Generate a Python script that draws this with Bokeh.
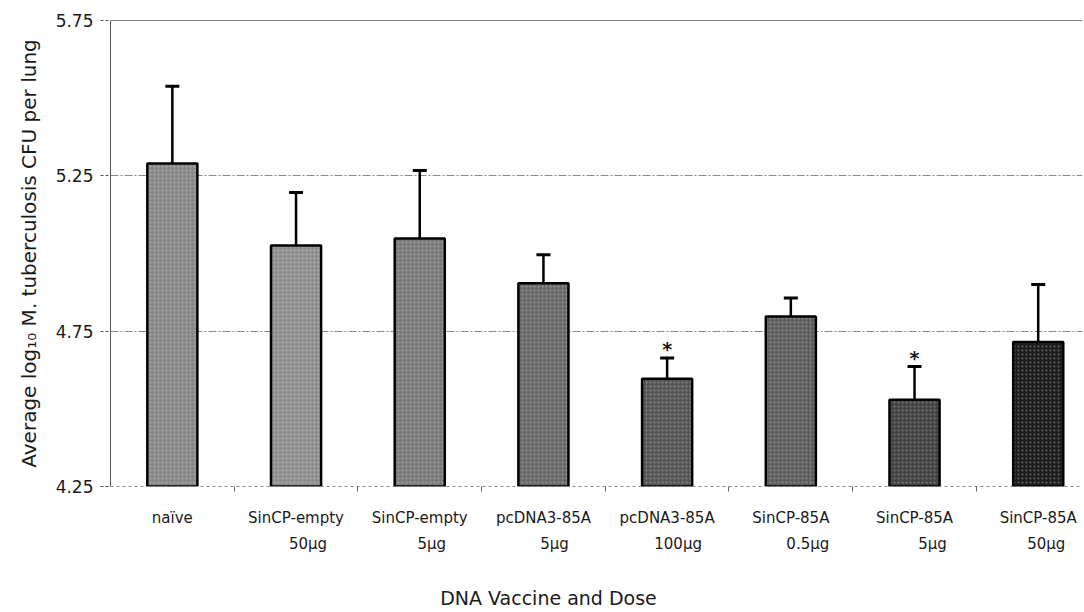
from bokeh.plotting import figure
from bokeh.models import (ColumnDataSource, Range1d, FixedTicker, PrintfTickFormatter,
                          Span, LinearAxis)
from bokeh.core.properties import value
from bokeh.embed import file_html
from bokeh.resources import INLINE

# ---- data ----
vaccines = ["naïve", "SinCP-empty", "SinCP-empty", "pcDNA3-85A", "pcDNA3-85A",
            "SinCP-85A", "SinCP-85A", "SinCP-85A"]
doses = ["", "50μg", "5μg", "5μg", "100μg", "0.5μg", "5μg", "50μg"]
means = [5.290, 5.026, 5.048, 4.904, 4.597, 4.797, 4.529, 4.715]
errors = [0.248, 0.170, 0.219, 0.092, 0.067, 0.060, 0.107, 0.185]
signif = ["", "", "", "", "*", "", "*", ""]
y_ticks = [4.25, 4.75, 5.25, 5.75]
x_title = "DNA Vaccine and Dose"

# ---- styles / layout ----
bar_colors = ["#878787", "#8e8e8e", "#7a7a7a", "#6a6a6a", "#555555",
              "#5e5e5e", "#424242", "#1e1e1e"]
line2_dx_px = [0, 12, 12, 11, 11, 17, 18, 8]   # pixel shift of dose line
PX_PER_CAT = 123.7
TITLE_CENTER_PX = 438                          # from frame left
FONT = "DejaVu Sans"
TXT = "#1a1a1a"

n = len(means)
xs = [i + 0.5 for i in range(n)]
upper = [m + e for m, e in zip(means, errors)]

src = ColumnDataSource(dict(x=xs, top=means, upper=upper, color=bar_colors))
sig_idx = [i for i in range(n) if signif[i]]
sig_src = ColumnDataSource(dict(x=[xs[i] for i in sig_idx],
                                y=[upper[i] for i in sig_idx],
                                sig=[signif[i] for i in sig_idx]))

p = figure(width=1084, height=612, output_backend="svg", toolbar_location=None,
           x_range=Range1d(0, 7.858), y_range=Range1d(y_ticks[0], y_ticks[-1]),
           min_border_left=110, min_border_right=2, min_border_top=20,
           min_border_bottom=126)
p.outline_line_color = None
p.background_fill_color = "white"

# grid
p.xgrid.grid_line_color = None
p.ygrid.ticker = FixedTicker(ticks=y_ticks[1:-1])
p.ygrid.grid_line_color = "#888888"
p.ygrid.grid_line_dash = "8 2 2 2"
p.ygrid.grid_line_width = 1

# bars
p.vbar(x="x", width=0.405, bottom=y_ticks[0], top="top", fill_color="color",
       line_color="black", line_width=2.5, hatch_pattern=".", hatch_color="white",
       hatch_alpha=0.3, hatch_scale=4, hatch_weight=1, source=src)
# error bars
p.segment(x0="x", y0="top", x1="x", y1="upper", line_color="black",
          line_width=2.5, source=src)
p.scatter(x="x", y="upper", marker="dash", size=14, line_width=3,
          line_color="black", source=src)
# significance stars
p.text(x="x", y="y", text="sig", text_align="center", text_baseline="alphabetic",
       y_offset=-9, text_font=value(FONT), text_font_size="19px",
       text_font_style="bold", text_color=TXT, source=sig_src)

# top line
p.add_layout(Span(location=y_ticks[-1], dimension="width", line_color="black",
                  line_width=1.2))

# y axis
ya = p.yaxis[0]
ya.ticker = FixedTicker(ticks=y_ticks)
ya.formatter = PrintfTickFormatter(format="%.2f")
ya.axis_label = "Average log₁₀ M. tuberculosis CFU per lung"
ya.axis_label_text_font = FONT
ya.axis_label_text_font_size = "20px"
ya.axis_label_text_font_style = "normal"
ya.axis_label_text_color = TXT
ya.axis_label_standoff = 12
ya.major_label_text_font = FONT
ya.major_label_text_font_size = "17px"
ya.major_label_text_color = TXT
ya.major_label_standoff = 7
ya.major_tick_out = 10
ya.major_tick_in = 0
ya.major_tick_line_color = "#555555"
ya.major_tick_line_dash = "3 2"
ya.minor_tick_line_color = None
ya.axis_line_color = "#555555"
ya.axis_line_width = 1

# x axis: category names at centres, separator ticks between categories
xa = p.xaxis[0]
xa.ticker = FixedTicker(ticks=xs, minor_ticks=[i for i in range(1, n)])
xa.major_label_overrides = {x: v for x, v in zip(xs, vaccines)}
xa.major_label_text_font = FONT
xa.major_label_text_font_size = "15px"
xa.major_label_text_color = TXT
xa.major_label_standoff = 17
xa.major_tick_out = 0
xa.major_tick_in = 0
xa.major_tick_line_color = None
xa.minor_tick_out = 5
xa.minor_tick_in = 0
xa.minor_tick_line_color = "#666666"
xa.axis_line_color = "#888888"
xa.axis_line_dash = "3 3"


def plain_axis(ticks, labels, size, standoff):
    ax = LinearAxis(ticker=FixedTicker(ticks=ticks, minor_ticks=[]),
                    major_label_overrides=dict(zip(ticks, labels)))
    ax.major_label_text_font = FONT
    ax.major_label_text_font_size = size
    ax.major_label_text_color = TXT
    ax.major_label_standoff = standoff
    ax.major_tick_out = 0
    ax.major_tick_in = 0
    ax.major_tick_line_color = None
    ax.minor_tick_line_color = None
    ax.axis_line_color = None
    return ax


# second line of category labels: doses
dose_idx = [i for i in range(n) if doses[i]]
dose_pos = [xs[i] + line2_dx_px[i] / PX_PER_CAT for i in dose_idx]
p.add_layout(plain_axis(dose_pos, [doses[i] for i in dose_idx], "15px", 5), "below")

# x title
p.add_layout(plain_axis([TITLE_CENTER_PX / PX_PER_CAT], [x_title], "19px", 31), "below")

open("out.html", "w").write(file_html(p, INLINE))
